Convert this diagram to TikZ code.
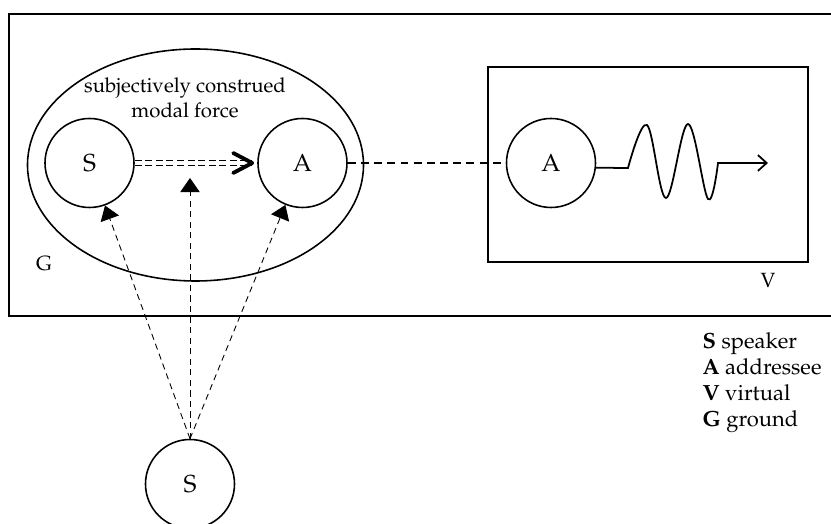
\documentclass[tikz,border=0pt]{standalone}
\usepackage[T1]{fontenc}
\usepackage{mathpazo}
\usetikzlibrary{arrows.meta}

\tikzset{
  pers/.style={circle,draw,line width=0.9pt,minimum size=1.78cm,inner sep=0pt,font=\fontsize{14}{16}\selectfont},
  thindash/.style={line width=0.5pt,dash pattern=on 3.5pt off 2.5pt,-{Triangle[length=8pt,width=11pt]}},
  dline/.style={line width=0.6pt,double,double distance=1.9pt,dash pattern=on 4pt off 2pt},
  mdash/.style={line width=0.75pt,dash pattern=on 4.5pt off 3pt},
}

\begin{document}
\begin{tikzpicture}[line width=0.9pt,font=\fontsize{11.7}{14}\selectfont]
\path[use as bounding box,clip] (0,0) rectangle (16.62,10.48);
% ground and virtual frames
\draw (0.18,4.16) rectangle (16.8,10.2);
\node (g) at (0.88,5.2) {G};
\draw (9.76,5.24) rectangle (16.16,9.14);
\node (v) at (15.36,4.88) {V};
\draw (3.91,7.18) ellipse (3.36 and 2.32);
\node[align=center,font=\fontsize{11.6}{14.2}\selectfont] (mf) at (3.7,8.52) {subjectively construed\\modal force};
% participants
\node[pers] (s1) at (1.79,7.22) {S};
\node[pers] (a1) at (6.05,7.22) {A};
\node[pers] (a2) at (11.02,7.22) {A};
\node[pers] (s0) at (3.8,0.8) {S};
\coordinate (tip) at ([xshift=-0.1cm]a1.west);
\draw[dline] (s1.east) -- (tip);
\draw[line width=2.2pt,line cap=round,line join=round] ([shift={(-0.38,0.2)}]tip) -- (tip) -- ([shift={(-0.38,-0.2)}]tip);
\draw[mdash] (a1.east) -- (a2.west);
% wave
\coordinate (wend) at (15.36,7.22);
\draw[line width=1pt,-{Straight Barb[length=5pt,width=9pt]}] (a2.-6) -- plot[smooth,tension=0.6] coordinates {(12.56,7.12) (12.94,7.98) (13.32,6.52) (13.76,8.0) (14.16,6.5) (14.36,7.22)} -- (wend);
% construal arrows
\coordinate (mid) at (3.8,6.92);
\draw[thindash] (s0.north) -- (s1);
\draw[thindash] (s0.north) -- (mid);
\draw[thindash] (s0.north) -- (a1);
% legend
\node[anchor=west,align=left,font=\fontsize{12.5}{14.8}\selectfont] (leg) at (13.92,2.83) {\textbf{S} speaker\\\textbf{A} addressee\\\textbf{V} virtual\\\textbf{G} ground};
\end{tikzpicture}
\end{document}
